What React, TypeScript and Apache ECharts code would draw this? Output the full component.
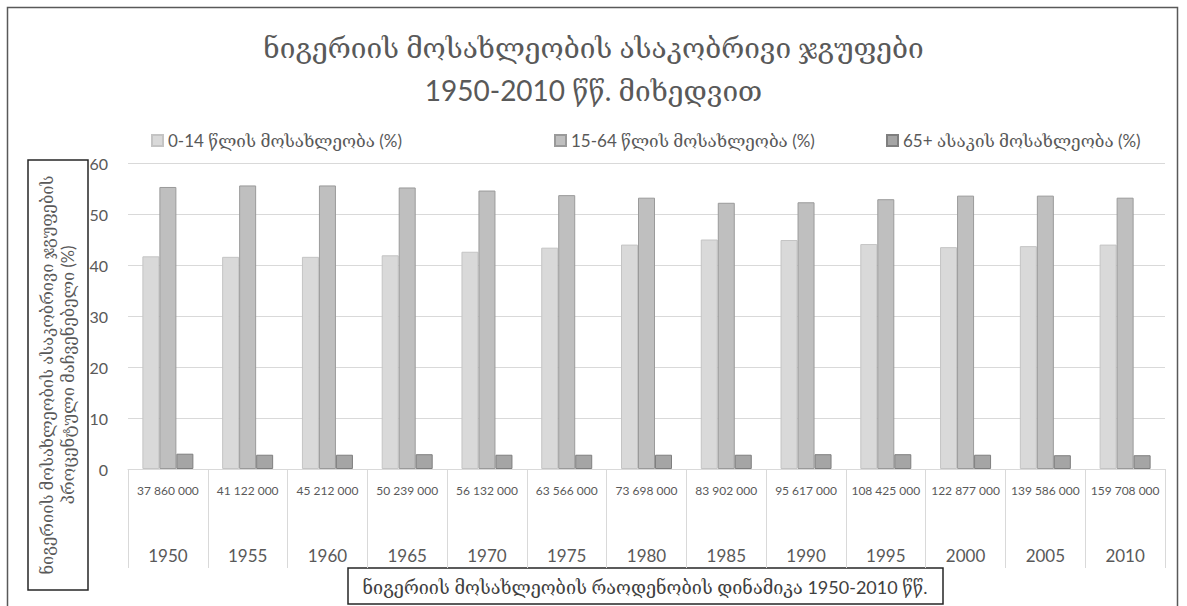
import React, { useEffect, useRef } from "react";
import * as echarts from "echarts";

const years = ["1950", "1955", "1960", "1965", "1970", "1975", "1980", "1985", "1990", "1995", "2000", "2005", "2010"];
const populations = ["37 860 000", "41 122 000", "45 212 000", "50 239 000", "56 132 000", "63 566 000", "73 698 000", "83 902 000", "95 617 000", "108 425 000", "122 877 000", "139 586 000", "159 708 000"];
const age0to14 = [41.7, 41.6, 41.6, 41.9, 42.6, 43.4, 44.0, 45.0, 44.9, 44.1, 43.5, 43.7, 44.0];
const age15to64 = [55.3, 55.6, 55.6, 55.2, 54.6, 53.7, 53.2, 52.2, 52.3, 52.9, 53.6, 53.6, 53.2];
const age65plus = [3.0, 2.8, 2.8, 2.9, 2.8, 2.8, 2.8, 2.8, 2.9, 2.9, 2.8, 2.7, 2.7];
const seriesNames = ["0-14 წლის მოსახლეობა (%)", "15-64 წლის მოსახლეობა (%)", "65+ ასაკის მოსახლეობა (%)"];
const titleText = "ნიგერიის მოსახლეობის ასაკობრივი ჯგუფები\n1950-2010 წწ. მიხედვით";
const yTitleLines = ["ნიგერიის მოსახლეობის ასაკობრივი ჯგუფების", "პროცენტული მაჩვენებელი (%)"];
const xTitle = "ნიგერიის მოსახლეობის რაოდენობის დინამიკა 1950-2010 წწ.";

const FONT = "Lato, 'DejaVu Serif', 'DejaVu Sans', sans-serif";
const TXT = "#595959";

export default function App() {
  const ref = useRef<HTMLDivElement>(null);
  useEffect(() => {
    if (!ref.current) return;
    const chart = echarts.init(ref.current, undefined, { renderer: "svg" });
    const fills = ["#d9d9d9", "#bfbfbf", "#a5a5a5"];
    const borders = ["#c4c4c4", "#9a9a9a", "#7f7f7f"];
    const datas = [age0to14, age15to64, age65plus];
    const legendLefts = [146, 549, 881];
    chart.setOption({
      animation: false,
      backgroundColor: "#ffffff",
      textStyle: { fontFamily: FONT },
      title: {
        text: titleText,
        left: "center",
        top: 20,
        textStyle: { fontSize: 28, fontWeight: "normal", color: TXT, lineHeight: 43, fontFamily: FONT },
      },
      legend: seriesNames.map((n, i) => ({
        data: [n],
        left: legendLefts[i],
        top: 127,
        icon: "rect",
        itemWidth: 11,
        itemHeight: 11,
        itemGap: 4,
        textStyle: { fontSize: 17, color: TXT, fontFamily: FONT },
      })),
      grid: { left: 128, right: 22, top: 163, bottom: 137 },
      xAxis: [
        {
          type: "category",
          data: years,
          boundaryGap: true,
          axisLine: { show: true, lineStyle: { color: "#d9d9d9", width: 1 } },
          axisTick: { show: true, length: 99, lineStyle: { color: "#d9d9d9" } },
          axisLabel: {
            margin: 15,
            fontSize: 12,
            color: TXT,
            interval: 0,
            formatter: (_v: string, i: number) => populations[i],
          },
        },
        {
          type: "category",
          data: years,
          position: "bottom",
          axisLine: { show: false },
          axisTick: { show: false },
          axisLabel: { margin: 78, fontSize: 17, color: TXT, interval: 0 },
        },
      ],
      yAxis: {
        type: "value",
        min: 0,
        max: 60,
        interval: 10,
        axisLine: { show: false },
        axisTick: { show: false },
        axisLabel: { fontSize: 16, color: TXT, margin: 20 },
        splitLine: { lineStyle: { color: "#d9d9d9", width: 1 } },
      },
      series: seriesNames.map((n, i) => ({
        name: n,
        type: "bar",
        xAxisIndex: 0,
        data: datas[i],
        barWidth: 17,
        barGap: "0%",
        itemStyle: { color: fills[i], borderColor: borders[i], borderWidth: 1 },
      })),
      graphic: [
        {
          type: "rect",
          shape: { x: 7.5, y: 7.5, width: 1170, height: 620 },
          style: { fill: "none", stroke: "#595959", lineWidth: 1.5 },
          silent: true,
        },
        {
          type: "rect",
          shape: { x: 28, y: 160, width: 60, height: 430 },
          style: { fill: "#ffffff", stroke: "#262626", lineWidth: 1.5 },
        },
        {
          type: "text",
          x: 47,
          y: 375,
          rotation: Math.PI / 2,
          style: { text: yTitleLines[0], fill: TXT, font: `16.5px ${FONT}`, textAlign: "center", textVerticalAlign: "middle" },
        },
        {
          type: "text",
          x: 68,
          y: 375,
          rotation: Math.PI / 2,
          style: { text: yTitleLines[1], fill: TXT, font: `16.5px ${FONT}`, textAlign: "center", textVerticalAlign: "middle" },
        },
        {
          type: "rect",
          shape: { x: 348, y: 568, width: 595, height: 36 },
          style: { fill: "#ffffff", stroke: "#262626", lineWidth: 1.5 },
        },
        {
          type: "text",
          x: 645,
          y: 587,
          style: { text: xTitle, fill: "#404040", font: `18px ${FONT}`, textAlign: "center", textVerticalAlign: "middle" },
        },
      ],
    });
    return () => chart.dispose();
  }, []);
  return <div ref={ref} style={{ position: "fixed", left: 0, top: 0, width: 1187, height: 606 }} />;
}
